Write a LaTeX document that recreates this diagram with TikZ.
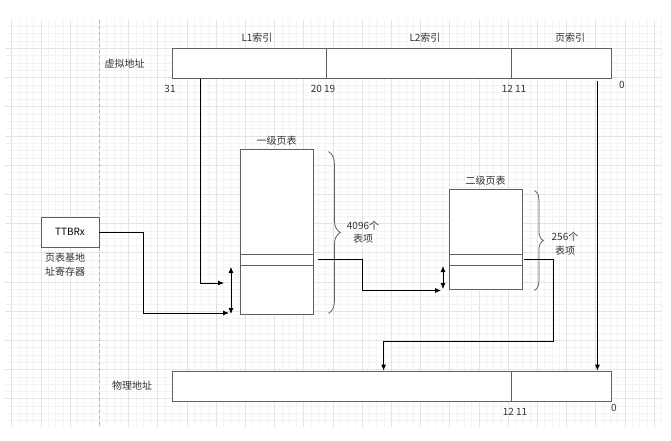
\documentclass[tikz,border=0pt]{standalone}
\usepackage{fontspec}
\setmainfont{Noto Sans CJK SC}
\usepackage{tikz}
\usetikzlibrary{calc,positioning,arrows.meta,decorations,decorations.pathreplacing}
\definecolor{boxgray}{HTML}{5F5F5F}
\definecolor{gridminor}{HTML}{F3F3F3}
\definecolor{gridmajor}{HTML}{E3E3E3}
\definecolor{textgray}{HTML}{333333}
\newcommand{\tikzPageTable}[4]{
  \node[tbl,minimum height=#3] (#1) at (#2) {};
  \node[tbl,minimum height=11pt] (#1e) at (#1.center |- 0,259.8) {};
  \node[lbl] (#1t) at ($(#1.north)+(0,-8)$) {#4};
}

\begin{document}
\begin{tikzpicture}[x=1pt, y=-1pt, font=\fontsize{10}{13.5}\selectfont,
  bar/.style={draw=boxgray,fill=white,line width=0.8pt,rectangle,inner sep=0pt,minimum height=30pt},
  tbl/.style={draw=boxgray,fill=white,line width=0.8pt,rectangle,inner sep=0pt,minimum width=73pt},
  lbl/.style={text=textgray,inner sep=1pt},
  arr/.style={draw=black,line width=0.8pt,-{Latex[length=6pt,width=5pt]}},
  darr/.style={draw=black,line width=0.8pt,{Latex[length=6pt,width=5pt]}-{Latex[length=6pt,width=5pt]}},
  brc/.style={draw=boxgray,line width=0.8pt,decorate,decoration={brace,amplitude=#1}}]
  \path[use as bounding box,fill=white] (0,0) rectangle (671,441);
  % grid
  \foreach \k in {-12,...,77}
    \draw[gridminor,line width=0.5pt] ({99.3+7.3*\k},20) -- ({99.3+7.3*\k},427);
  \foreach \k in {-3,...,51}
    \draw[gridminor,line width=0.5pt] (5,{48.3+7.3*\k}) -- (662,{48.3+7.3*\k});
  \foreach \k in {-12,-8,...,76}
    \draw[gridmajor,line width=0.5pt] ({99.3+7.3*\k},20) -- ({99.3+7.3*\k},427);
  \foreach \k in {0,4,...,48}
    \draw[gridmajor,line width=0.5pt] (5,{48.3+7.3*\k}) -- (662,{48.3+7.3*\k});
  \draw[gray!60,dashed,line width=0.5pt] (99.3,20) -- (99.3,427);

  % virtual address
  \node[bar,minimum width=154pt] (vl1) at (249,63.3) {};
  \node[bar,minimum width=185pt] (vl2) at (418.5,63.3) {};
  \node[bar,minimum width=100pt] (vpg) at (561,63.3) {};
  \node[lbl] (vaddr) at (124.5,63.3) {虚拟地址};
  \node[lbl] (l1idx) at (257,38) {L1索引};
  \node[lbl] (l2idx) at (425,38) {L2索引};
  \node[lbl] (pgidx) at (570,38) {页索引};
  \node[lbl] (b31) at (170,89) {31};
  \node[lbl] (b20) at (323,89) {20 19};
  \node[lbl] (b12) at (514,89) {12 11};
  \node[lbl] (b0) at (622,85) {0};

  % physical address
  \node[bar,minimum width=339pt] (pfn) at (341.5,386) {};
  \node[bar,minimum width=100pt] (poff) at (561,386) {};
  \node[lbl] (paddr) at (132,386) {物理地址};
  \node[lbl] (pb12) at (515,411.5) {12 11};
  \node[lbl] (pb0) at (614,407.5) {0};

  % base register
  \node[bar,minimum width=58pt] (ttbr) at (70,232) {TTBRx};
  \node[lbl,align=left,anchor=west] (ttbrlbl) at (44,264.5) {页表基地\\址寄存器};

  % page tables
  \tikzPageTable{t1}{276.5,231.5}{165pt}{一级页表}
  \tikzPageTable{t2}{485.5,239}{100pt}{二级页表}
  \draw[brc=12pt] ([xshift=15pt,yshift=-3pt]t1.north east) -- ([xshift=15pt,yshift=1pt]t1.south east);
  \node[lbl,align=center] (t1cnt) at (363,232) {4096个\\表项};
  \draw[brc=9pt] ([xshift=12pt,yshift=-2pt]t2.north east) -- ([xshift=12pt,yshift=-1pt]t2.south east);
  \node[lbl,align=center] (t2cnt) at (565,243.7) {256个\\表项};

  % offsets inside the tables
  \coordinate (d1top) at (231,267);
  \coordinate (d1bot) at (231,314);
  \coordinate (d2top) at (443,266);
  \coordinate (d2bot) at (443,289);
  \draw[darr] (d1top) -- (d1bot);
  \draw[darr] (d2top) -- (d2bot);

  % connectors
  \coordinate (l1in) at (224,283);
  \coordinate (basein) at (229,313);
  \coordinate (l2in) at (441,290.5);
  \draw[arr] ([xshift=29pt]vl1.south west) |- (l1in);
  \draw[arr] (ttbr.east) -- ++(44,0) |- (basein);
  \draw[arr] ([xshift=5pt]t1e.east) -- ++(44,0) |- (l2in);
  \draw[arr] ([xshift=2pt]t2e.east) -- ++(29,0) |- ([xshift=212pt,yshift=29pt]pfn.north west) -- ([xshift=212pt]pfn.north west);
  \draw[arr] ([xshift=-14pt,yshift=-2pt]vpg.south east) -- ([xshift=-14pt]poff.north east);
\end{tikzpicture}
\end{document}
